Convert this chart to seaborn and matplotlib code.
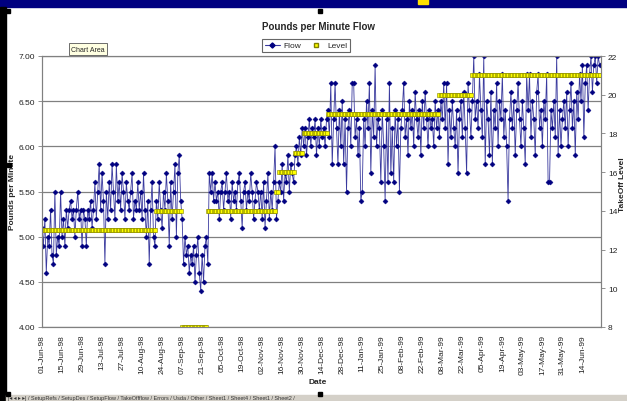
import numpy as np
import pandas as pd
import seaborn as sns
import matplotlib.pyplot as plt
import matplotlib.dates as mdates
from matplotlib.lines import Line2D
from matplotlib.patches import Rectangle

# daily flow readings (lb/min)
flow_jun98 = [5.1, 4.9, 5.2, 4.6, 5.0, 4.9, 5.3, 4.8, 4.7, 5.5, 4.8, 5.0, 4.9, 5.5, 5.0,
              5.2, 4.9, 5.3, 5.1, 5.3, 5.4, 5.2, 5.3, 5.0, 5.3, 5.5, 5.2, 5.3, 4.9, 5.3]
flow_jul98 = [5.2, 4.9, 5.3, 5.2, 5.4, 5.1, 5.3, 5.6, 5.2, 5.5, 5.8, 5.3, 5.7, 5.4, 4.7, 5.5,
              5.2, 5.6, 5.3, 5.8, 5.5, 5.2, 5.8, 5.4, 5.6, 5.3, 5.7, 5.5, 5.2, 5.6, 5.4]
flow_aug98 = [5.3, 5.5, 5.7, 5.2, 5.4, 5.3, 5.6, 5.3, 5.5, 5.2, 5.7, 5.3, 5.0, 5.4, 4.7, 5.3,
              5.6, 5.0, 4.9, 5.4, 5.2, 5.6, 5.3, 5.1, 5.5, 5.3, 5.7, 5.4, 4.9, 5.6, 5.2]
flow_sep98 = [5.5, 5.8, 5.0, 5.7, 5.9, 5.4, 5.2, 4.7, 5.0, 4.8, 4.9, 4.6, 4.8, 4.7, 4.9,
              4.5, 4.8, 5.0, 4.6, 4.4, 4.8, 4.5, 4.9, 5.0, 4.7, 5.7, 5.5, 5.7, 5.4, 5.6]
flow_oct98 = [5.4, 5.5, 5.2, 5.5, 5.6, 5.3, 5.5, 5.7, 5.4, 5.5, 5.2, 5.6, 5.4, 5.5, 5.3, 5.6,
              5.7, 5.4, 5.1, 5.5, 5.6, 5.3, 5.5, 5.4, 5.7, 5.5, 5.2, 5.4, 5.6, 5.5, 5.3]
flow_nov98 = [5.5, 5.2, 5.6, 5.1, 5.4, 5.7, 5.2, 5.5, 5.3, 5.6, 6.0, 5.2, 5.4, 5.6, 5.5,
              5.8, 5.4, 5.7, 5.6, 5.9, 5.5, 5.8, 5.7, 5.6, 5.9, 6.0, 5.8, 6.1, 5.9, 6.2]
flow_dec98 = [6.0, 6.2, 5.9, 6.1, 6.3, 6.0, 6.2, 6.1, 6.3, 5.9, 6.2, 6.0, 6.3, 6.1, 6.2, 6.0,
              6.3, 6.4, 6.1, 6.7, 5.8, 6.3, 6.7, 6.2, 5.8, 6.4, 6.0, 6.5, 5.8, 6.3, 5.5]
flow_jan99 = [6.2, 6.4, 6.0, 6.7, 6.7, 6.1, 6.3, 5.9, 6.2, 5.4, 5.5, 6.3, 6.0, 6.5, 6.2, 6.7,
              5.7, 6.4, 6.1, 6.9, 6.0, 6.3, 6.2, 5.6, 6.4, 6.0, 5.4, 6.3, 5.6, 6.7, 5.7]
flow_feb99 = [6.2, 5.6, 6.4, 6.0, 6.3, 5.5, 6.2, 6.4, 6.7, 6.1, 6.3, 5.9, 6.5, 6.2,
              6.4, 6.0, 6.6, 6.3, 6.1, 6.4, 5.9, 6.5, 6.2, 6.6, 6.3, 6.0, 6.4, 6.2]
flow_mar99 = [6.3, 6.0, 6.5, 6.2, 6.4, 6.1, 6.5, 6.3, 6.7, 6.2, 6.7, 5.8, 6.4, 6.1, 6.5, 6.2,
              6.0, 6.4, 5.7, 6.3, 6.5, 6.1, 6.6, 6.2, 5.7, 6.7, 6.4, 6.1, 6.5, 7.0, 6.3]
flow_apr99 = [6.5, 6.2, 6.8, 6.4, 6.1, 7.0, 5.8, 6.5, 6.3, 5.9, 6.6, 5.8, 6.4, 6.2, 6.7,
              6.0, 6.5, 6.3, 6.8, 6.1, 6.4, 6.0, 5.4, 6.3, 6.6, 6.2, 6.5, 5.9, 6.4, 6.7]
flow_may99 = [6.3, 6.0, 6.5, 6.2, 5.8, 6.8, 6.4, 6.8, 6.1, 6.5, 6.3, 5.9, 6.6, 6.8, 6.2, 6.4,
              6.0, 6.5, 6.3, 6.8, 5.6, 5.6, 6.4, 6.2, 6.5, 6.1, 7.0, 5.9, 6.4, 6.0, 6.3]
flow_jun99 = [6.5, 6.2, 6.6, 6.0, 6.4, 6.7, 6.2, 6.5, 5.9, 6.6, 6.3, 6.8, 6.5,
              6.9, 6.1, 6.7, 6.9, 6.4, 6.8, 7.0, 6.6, 6.9, 7.0, 6.7, 7.0, 6.9]

# takeoff level: value held from each start date on
level_start = ['1998-06-01', '1998-08-20', '1998-09-07', '1998-09-25', '1998-11-12', '1998-11-14',
               '1998-11-25', '1998-12-01', '1998-12-18', '1999-03-06', '1999-03-29']
level_value = [13, 14, 8, 14, 15, 16, 17, 18, 19, 20, 21]

flow = (flow_jun98 + flow_jul98 + flow_aug98 + flow_sep98 + flow_oct98 + flow_nov98 +
        flow_dec98 + flow_jan99 + flow_feb99 + flow_mar99 + flow_apr99 + flow_may99 + flow_jun99)
dates = pd.date_range('1998-06-01', periods=len(flow), freq='D')
level = pd.Series(np.nan, index=dates)
for start, val in zip(level_start, level_value):
    level[start:] = val
df = pd.DataFrame({'Date': dates, 'Flow': flow, 'Level': level.values})

tick_dates = pd.date_range('1998-06-01', '1999-06-14', freq='14D')

sns.set_style('white')
plt.rcParams['font.family'] = ['Liberation Sans', 'DejaVu Sans']

W, H = 627, 402
fig = plt.figure(figsize=(W / 100, H / 100), dpi=100)
ax = fig.add_axes([42 / W, 1 - 328 / H, (601 - 42) / W, (328 - 57) / H])
ax2 = ax.twinx()

sns.lineplot(data=df, x='Date', y='Flow', ax=ax, color='#3a3a9e', linewidth=0.6,
             marker='D', markersize=2.6, markerfacecolor='#000080',
             markeredgecolor='#000080', markeredgewidth=0.3, legend=False)
sns.scatterplot(data=df, x='Date', y='Level', ax=ax2, marker='s', s=7,
                color='#FFFF00', edgecolor='#808000', linewidth=0.4, legend=False)

ax.set_ylim(4, 7)
ax.set_yticks(np.arange(4, 7.01, 0.5))
ax.yaxis.set_major_formatter('{x:.2f}')
ax2.set_ylim(8, 22)
ax2.set_yticks(range(8, 23, 2))
ax.set_xlim(pd.Timestamp('1998-06-01'), pd.Timestamp('1999-06-27'))
ax.set_xticks(tick_dates)
ax.xaxis.set_major_formatter(mdates.DateFormatter('%d-%b-%y'))
for lab in ax.get_xticklabels():
    lab.set_rotation(90)

ax.yaxis.grid(True, color='#808080', linewidth=0.9)
ax.set_axisbelow(True)
for a in (ax, ax2):
    for sp in a.spines.values():
        sp.set_color('#808080')
        sp.set_linewidth(0.8)
    a.tick_params(direction='out', length=3, width=0.6, color='#808080',
                  labelsize=6, labelcolor='#222222', pad=2)
    a.set_xlabel('')
    a.set_ylabel('')

fig.text(318 / W, 1 - 27 / H, 'Pounds per Minute Flow', ha='center', va='center',
         fontsize=7, fontweight='bold')
fig.text(318 / W, 1 - 383 / H, 'Date', ha='center', va='center', fontsize=6, fontweight='bold')
fig.text(13 / W, 1 - 192 / H, 'Pounds per Minute', ha='center', va='center', rotation=90,
         fontsize=6, fontweight='bold')
fig.text(622 / W, 1 - 185 / H, 'TakeOff Level', ha='center', va='center', rotation=90,
         fontsize=6, fontweight='bold')

handles = [Line2D([], [], color='#3a3a9e', lw=0.8, marker='D', ms=2.6,
                  mfc='#000080', mec='#000080'),
           Line2D([], [], ls='none', marker='s', ms=3, mfc='#FFFF00', mec='#808000')]
leg = fig.legend(handles, ['Flow', 'Level'], loc='center', bbox_to_anchor=(306 / W, 1 - 46.5 / H),
                 ncol=2, fontsize=6, frameon=True, fancybox=False, edgecolor='#404040',
                 handlelength=1.8, columnspacing=0.9, borderpad=0.3, handletextpad=0.4)
leg.get_frame().set_linewidth(0.8)

# slide / window surroundings
fig.add_artist(Rectangle((0, 1 - 8 / H), 1, 8 / H, transform=fig.transFigure,
                         color='#000080', zorder=0))
fig.add_artist(Rectangle((418 / W, 1 - 5 / H), 10 / W, 5 / H, transform=fig.transFigure,
                         color='#FFE000', zorder=1))
fig.add_artist(Rectangle((0, 0), 6 / W, 1 - 8 / H, transform=fig.transFigure,
                         color='black', zorder=1))
fig.add_artist(Rectangle((6 / W, 0), 1, 6 / H, transform=fig.transFigure,
                         color='#D4D0C8', zorder=1))
fig.text(8 / W, 3 / H, '|◂ ◂ ▸ ▸| / SetupRefs / SetupDes / SetupFlow / TakeOffflow / Errors / Usda / '
         'Other / Sheet1 / Sheet4 / Sheet1 / Sheet2 /', fontsize=4, va='center', color='#333333')
for hx, hy in [(8, 12), (320, 12), (9, 166), (8, 395), (320, 395)]:
    fig.add_artist(Rectangle(((hx - 2) / W, 1 - (hy + 2) / H), 4 / W, 4 / H,
                             transform=fig.transFigure, color='black', zorder=5))

fig.text(88 / W, 1 - 50 / H, 'Chart Area', ha='center', va='center', fontsize=5,
         bbox=dict(boxstyle='square,pad=0.3', fc='#FFFFE1', ec='#555555', lw=0.6))

fig.savefig('out.png', dpi=100)
